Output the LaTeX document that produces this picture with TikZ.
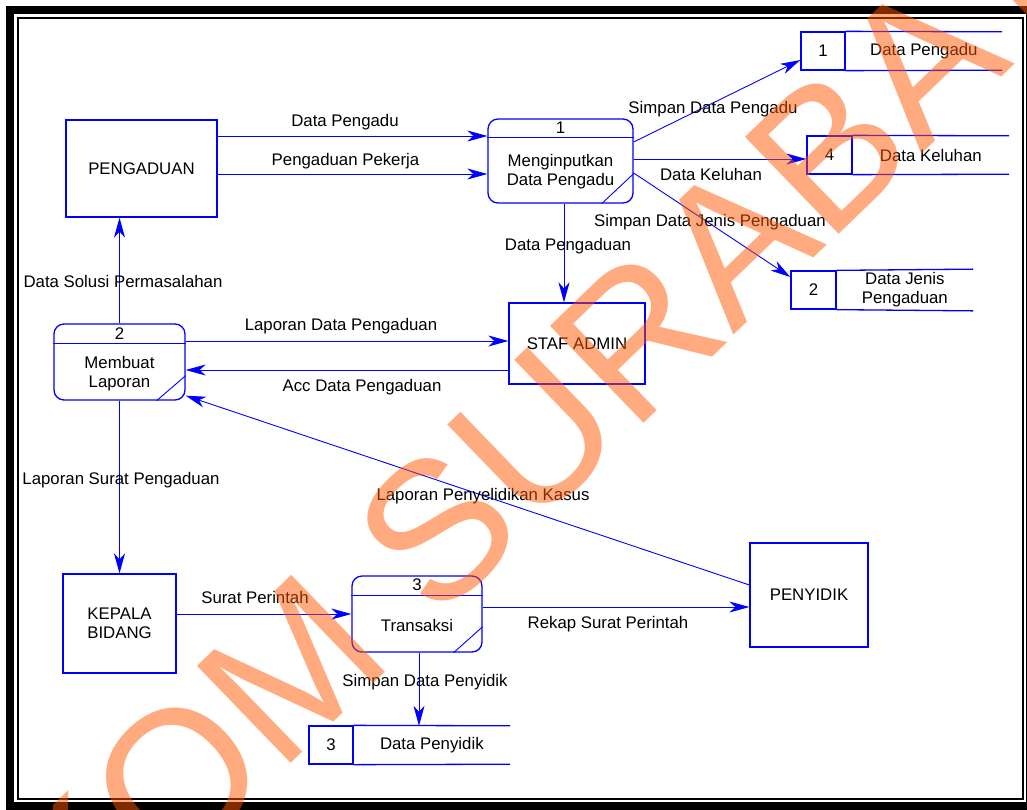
\documentclass[tikz,border=0pt]{standalone}
\usepackage{fontspec}
\setmainfont{Liberation Sans}
\usetikzlibrary{arrows.meta,positioning}
\definecolor{dfdblue}{RGB}{0,0,255}
\definecolor{wmorange}{RGB}{255,85,0}
\tikzstyle{entity} = [draw=dfdblue, line width=1.3pt, rectangle, align=center]
\tikzstyle{proses} = [draw=dfdblue, line width=1.3pt, rectangle, rounded corners=10pt]
\tikzstyle{storeid} = [draw=dfdblue, line width=1.3pt, rectangle, minimum height=38pt]
\tikzstyle{storetext} = [rectangle, minimum height=38pt, align=center]
\tikzstyle{flow} = [draw=dfdblue, line width=0.9pt, ->]
\tikzstyle{lbl} = [inner sep=1pt, text height=15.5pt, text depth=3.5pt]

\begin{document}
\begin{tikzpicture}[x=1pt, y=-1pt, >={Stealth[length=20pt,width=11pt,inset=6pt]},
    every node/.style={font=\fontsize{16.8}{19}\selectfont}]
    \useasboundingbox (0,0) rectangle (1027,809);
    \clip (0,0) rectangle (1027,809);
    % bingkai
    \draw[line width=8pt] (10,9.5) rectangle (1029.5,806);
    \draw[line width=2.2pt] (18,18) rectangle (1023,799);

    % entitas luar
    \node [entity, minimum width=151pt, minimum height=97pt] (pengaduan) at (141.5,168.5) {PENGADUAN};
    \node [entity, minimum width=136pt, minimum height=81pt] (staf) at (577,343.5) {STAF ADMIN};
    \node [entity, minimum width=113pt, minimum height=99pt] (kabid) at (119.5,623.5) {KEPALA\\BIDANG};
    \node [entity, minimum width=118pt, minimum height=104pt] (penyidik) at (809,595) {PENYIDIK};

    % proses
    \node [proses, minimum width=145pt, minimum height=84pt] (p1) at (560.5,161) {};
    \node (p1no) at ([yshift=-9.5pt]p1.north) {1};
    \node [align=center] (p1nm) at ([yshift=-11pt]p1.center) {Menginputkan\\Data Pengadu};
    \draw [dfdblue, line width=1.3pt] ([yshift=-19pt]p1.north west) -- ([yshift=-19pt]p1.north east);
    \draw [dfdblue, line width=0.9pt] ([xshift=-32pt]p1.south east) -- ([yshift=30pt]p1.south east);

    \node [proses, minimum width=131pt, minimum height=76pt] (p2) at (119.5,362) {};
    \node (p2no) at ([yshift=-10pt]p2.north) {2};
    \node [align=center] (p2nm) at ([yshift=-11.5pt]p2.center) {Membuat\\Laporan};
    \draw [dfdblue, line width=1.3pt] ([yshift=-20pt]p2.north west) -- ([yshift=-20pt]p2.north east);
    \draw [dfdblue, line width=0.9pt] ([xshift=-29pt]p2.south east) -- ([yshift=25pt]p2.south east);

    \node [proses, minimum width=130pt, minimum height=76pt] (p3) at (417,614) {};
    \node (p3no) at ([yshift=-9pt]p3.north) {3};
    \node (p3nm) at ([yshift=-11pt]p3.center) {Transaksi};
    \draw [dfdblue, line width=1.3pt] ([yshift=-20pt]p3.north west) -- ([yshift=-20pt]p3.north east);
    \draw [dfdblue, line width=0.9pt] ([xshift=-29pt]p3.south east) -- ([yshift=26pt]p3.south east);

    % data store
    \node [storeid, minimum width=44pt] (d1) at (823,51) {1};
    \node [storetext, minimum width=156pt, right=0pt of d1] (d1t) {Data Pengadu};
    \draw [dfdblue, line width=1.3pt] (d1.north east) -- (d1t.north east) (d1.south east) -- (d1t.south east);
    \node [storeid, minimum width=45pt] (d4) at (829.5,155) {4};
    \node [storetext, minimum width=156pt, right=0pt of d4] (d4t) {Data Keluhan};
    \draw [dfdblue, line width=1.3pt] (d4.north east) -- (d4t.north east) (d4.south east) -- (d4t.south east);
    \node [storeid, minimum width=45pt] (d2) at (813.5,290) {2};
    \node [storetext, minimum width=136pt, right=0pt of d2] (d2t) {Data Jenis\\Pengaduan};
    \draw [dfdblue, line width=1.3pt] (d2.north east) -- (d2t.north east) (d2.south east) -- (d2t.south east);
    \node [storeid, minimum width=44pt] (d3) at (331,745) {3};
    \node [storetext, minimum width=156pt, right=0pt of d3] (d3t) {Data Penyidik};
    \draw [dfdblue, line width=1.3pt] (d3.north east) -- (d3t.north east) (d3.south east) -- (d3t.south east);

    % aliran data
    \draw [flow] ([yshift=32.5pt]pengaduan.east) -- node [lbl, above=4.5pt, xshift=-7.5pt] {Data Pengadu} ([yshift=25pt]p1.west);
    \draw [flow] ([yshift=-5.5pt]pengaduan.east) -- node [lbl, above=3.5pt, xshift=-7pt] {Pengaduan Pekerja} ([yshift=-13pt]p1.west);
    \draw [flow] (p2.north) -- node [lbl, pos=0.4, xshift=3.5pt] {Data Solusi Permasalahan} (p2.north |- pengaduan.south);
    \draw [flow] ([yshift=21pt]p2.east) -- node [lbl, above=5.5pt, xshift=-6pt] {Laporan Data Pengaduan} ([yshift=2.5pt]staf.west);
    \draw [flow] ([yshift=-26.5pt]staf.west) -- node [lbl, below=4.5pt, xshift=15pt] {Acc Data Pengaduan} ([yshift=-8pt]p2.east);
    \draw [flow] ([xshift=3.5pt]p1.south) -- node [lbl, xshift=4pt, yshift=9pt] {Data Pengaduan} ([xshift=3.5pt]p1.south |- staf.north);
    \draw [flow] ([yshift=19pt]p1.east) -- node [lbl, xshift=-4pt, yshift=-6pt] {Simpan Data Pengadu} ([yshift=-9pt]d1.west);
    \draw [flow] ([yshift=2pt]p1.east) -- node [lbl, below=4.5pt, xshift=-9pt] {Data Keluhan} ([yshift=-4pt]d4.west);
    \draw [flow] ([yshift=-12pt]p1.east) -- node [lbl, xshift=-2pt, yshift=5pt] {Simpan Data Jenis Pengaduan} ([yshift=13pt]d2.west);
    \draw [flow] (p2.south) -- node [lbl, xshift=1.5pt, yshift=9pt] {Laporan Surat Pengaduan} (kabid.north);
    \draw [flow] ([yshift=9.5pt]kabid.east) -- node [lbl, above=5.5pt, xshift=-9pt] {Surat Perintah} (p3.west);
    \draw [flow] ([yshift=7pt]p3.east) -- node [lbl, below=4.5pt, xshift=-8pt] {Rekap Surat Perintah} ([yshift=-12pt]penyidik.west);
    \draw [flow] ([yshift=10pt]penyidik.west) -- node [lbl, xshift=15.5pt, yshift=-4pt] {Laporan Penyelidikan Kasus} ([yshift=5pt]p2.south east);
    \draw [flow] ([xshift=2pt]p3.south) -- node [lbl, xshift=6pt, yshift=9pt] {Simpan Data Penyidik} ([xshift=2pt]p3.south |- d3t.north);

    % tanda air
    \node [rotate=44, text=wmorange, text opacity=0.5, inner sep=0pt,
        font=\fontsize{196}{196}\selectfont] (tandaair) at (473,494) {STIKOM SURABAYA};
\end{tikzpicture}
\end{document}
